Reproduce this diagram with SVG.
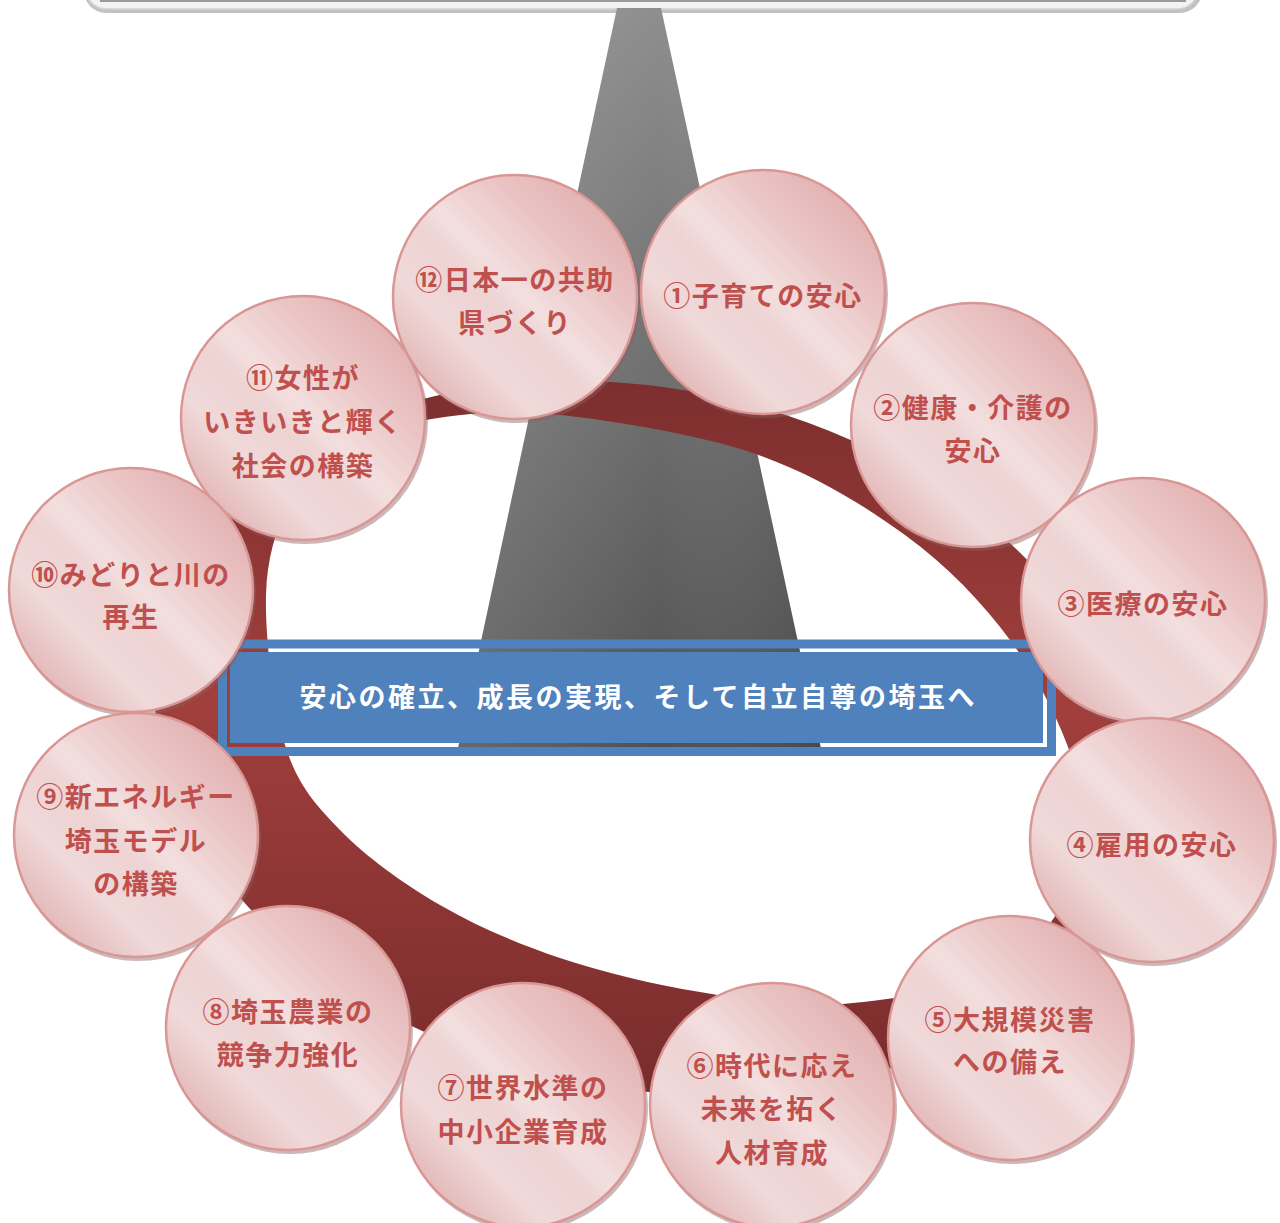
<svg xmlns="http://www.w3.org/2000/svg" width="1280" height="1223" viewBox="0 0 1280 1223">
<defs>
<linearGradient id="pink" x1="1" y1="0" x2="0" y2="1">
<stop offset="0" stop-color="#dda3a3"/>
<stop offset="0.3" stop-color="#eac4c4"/>
<stop offset="0.48" stop-color="#f3dfdf"/>
<stop offset="0.56" stop-color="#eed3d3"/>
<stop offset="0.7" stop-color="#f0d9d9"/>
<stop offset="1" stop-color="#d99d9d"/>
</linearGradient>
<linearGradient id="trapV" x1="0" y1="0" x2="0" y2="1">
<stop offset="0" stop-color="#8e8e8e"/>
<stop offset="1" stop-color="#505050"/>
</linearGradient>
<linearGradient id="trapH" x1="0" y1="0" x2="1" y2="0">
<stop offset="0" stop-color="#ffffff" stop-opacity="0.14"/>
<stop offset="0.55" stop-color="#ffffff" stop-opacity="0"/>
<stop offset="1" stop-color="#000000" stop-opacity="0.1"/>
</linearGradient>
<linearGradient id="ringG" x1="0" y1="0" x2="0" y2="1">
<stop offset="0" stop-color="#7c2e2e"/>
<stop offset="0.45" stop-color="#a13f3c"/>
<stop offset="1" stop-color="#782c2c"/>
</linearGradient>
<style>
.c{fill:url(#pink);stroke:#d99694;stroke-width:2.5}
.s{fill:#8c5f5f;opacity:0.45}
.t{font-family:"Noto Sans CJK JP","Noto Sans",sans-serif;font-weight:700;font-size:27px;fill:#c0504d;text-anchor:middle;letter-spacing:1.5px}
.bt{font-family:"Noto Sans CJK JP","Noto Sans",sans-serif;font-weight:700;font-size:27px;fill:#ffffff;text-anchor:middle}
</style>
</defs>
<rect width="1280" height="1223" fill="#ffffff"/>
<g id="topbar">
<rect x="84" y="-60" width="1118" height="73" rx="22" fill="#c2c2c2"/>
<rect x="86" y="-60" width="1112" height="69" rx="20" fill="#f3f3f3" stroke="#d2d2d2" stroke-width="1.5"/>
<line x1="100" y1="1" x2="1186" y2="1" stroke="#9a9a9a" stroke-width="2"/>
</g>
<g id="pillar">
<polygon points="617,8 661,8 822,753 457,753" fill="url(#trapV)"/>
<polygon points="617,8 661,8 822,753 457,753" fill="url(#trapH)"/>
</g>
<g id="connectors">
<path id="ring" fill="url(#ringG)" fill-rule="evenodd" d="M160.8,635.7 A492,345 12 1,1 1123.2,840.3 A492,345 12 1,1 160.8,635.7 Z M266,595 C267,554 278.5,522.8 291,499 C303.5,475.2 320.5,464.8 341,452 C361.5,439.2 381.2,428.5 414,422 C446.8,415.5 493,410 538,413 C583,416 688.8,431.7 750,452 C811.2,472.3 861.7,503.7 905,535 C948.3,566.3 982.2,602.8 1010,640 C1037.8,677.2 1059.8,722.2 1072,758 C1084.2,793.8 1093.5,820.7 1083,855 C1072.5,889.3 1049,939.2 1009,964 C969,988.8 894.5,999.3 843,1004 C791.5,1008.7 747.2,999.7 700,992 C652.8,984.3 603.3,972.5 560,958 C516.7,943.5 476.7,926.3 440,905 C403.3,883.7 365.8,856.7 340,830 C314.2,803.3 297.3,784.2 285,745 C272.7,705.8 265,636 266,595 Z"/>
</g>
<g id="banner">
<rect x="222.5" y="644" width="829" height="107.5" fill="none" stroke="#4f81bd" stroke-width="9"/>
<rect x="230" y="652" width="813" height="91" fill="#4f81bd"/>
<text class="bt" x="637" y="707" textLength="675" lengthAdjust="spacing">安心の確立、成長の実現、そして自立自尊の埼玉へ</text>
</g>
<g id="n12"><circle class="s" cx="517" cy="300" r="123"/><circle class="c" cx="515" cy="297" r="122"/>
<text class="t" x="515" y="290">⑫日本一の共助</text><text class="t" x="515" y="333">県づくり</text></g>
<g id="n1"><circle class="s" cx="765" cy="295" r="123"/><circle class="c" cx="763" cy="292" r="122"/>
<text class="t" x="763" y="306">①子育ての安心</text></g>
<g id="n11"><circle class="s" cx="305" cy="421" r="123"/><circle class="c" cx="303" cy="418" r="122"/>
<text class="t" x="303" y="388">⑪女性が</text><text class="t" x="303" y="432">いきいきと輝く</text><text class="t" x="303" y="476">社会の構築</text></g>
<g id="n2"><circle class="s" cx="975" cy="428" r="123"/><circle class="c" cx="973" cy="425" r="122"/>
<text class="t" x="973" y="418">②健康・介護の</text><text class="t" x="973" y="461">安心</text></g>
<g id="n10"><circle class="s" cx="133" cy="593" r="123"/><circle class="c" cx="131" cy="590" r="122"/>
<text class="t" x="131" y="585">⑩みどりと川の</text><text class="t" x="131" y="627">再生</text></g>
<g id="n3"><circle class="s" cx="1145" cy="603" r="123"/><circle class="c" cx="1143" cy="600" r="122"/>
<text class="t" x="1143" y="614">③医療の安心</text></g>
<g id="n9"><circle class="s" cx="138" cy="838" r="123"/><circle class="c" cx="136" cy="835" r="122"/>
<text class="t" x="136" y="807">⑨新エネルギー</text><text class="t" x="136" y="851">埼玉モデル</text><text class="t" x="136" y="894">の構築</text></g>
<g id="n4"><circle class="s" cx="1154" cy="843" r="123"/><circle class="c" cx="1152" cy="840" r="122"/>
<text class="t" x="1152" y="855">④雇用の安心</text></g>
<g id="n8"><circle class="s" cx="290" cy="1031" r="123"/><circle class="c" cx="288" cy="1028" r="122"/>
<text class="t" x="288" y="1022">⑧埼玉農業の</text><text class="t" x="288" y="1065">競争力強化</text></g>
<g id="n5"><circle class="s" cx="1012" cy="1041" r="123"/><circle class="c" cx="1010" cy="1038" r="122"/>
<text class="t" x="1010" y="1030">⑤大規模災害</text><text class="t" x="1010" y="1072">への備え</text></g>
<g id="n7"><circle class="s" cx="525" cy="1108" r="123"/><circle class="c" cx="523" cy="1105" r="122"/>
<text class="t" x="523" y="1098">⑦世界水準の</text><text class="t" x="523" y="1142">中小企業育成</text></g>
<g id="n6"><circle class="s" cx="774" cy="1108" r="123"/><circle class="c" cx="772" cy="1105" r="122"/>
<text class="t" x="772" y="1076">⑥時代に応え</text><text class="t" x="772" y="1119">未来を拓く</text><text class="t" x="772" y="1163">人材育成</text></g>
</svg>
